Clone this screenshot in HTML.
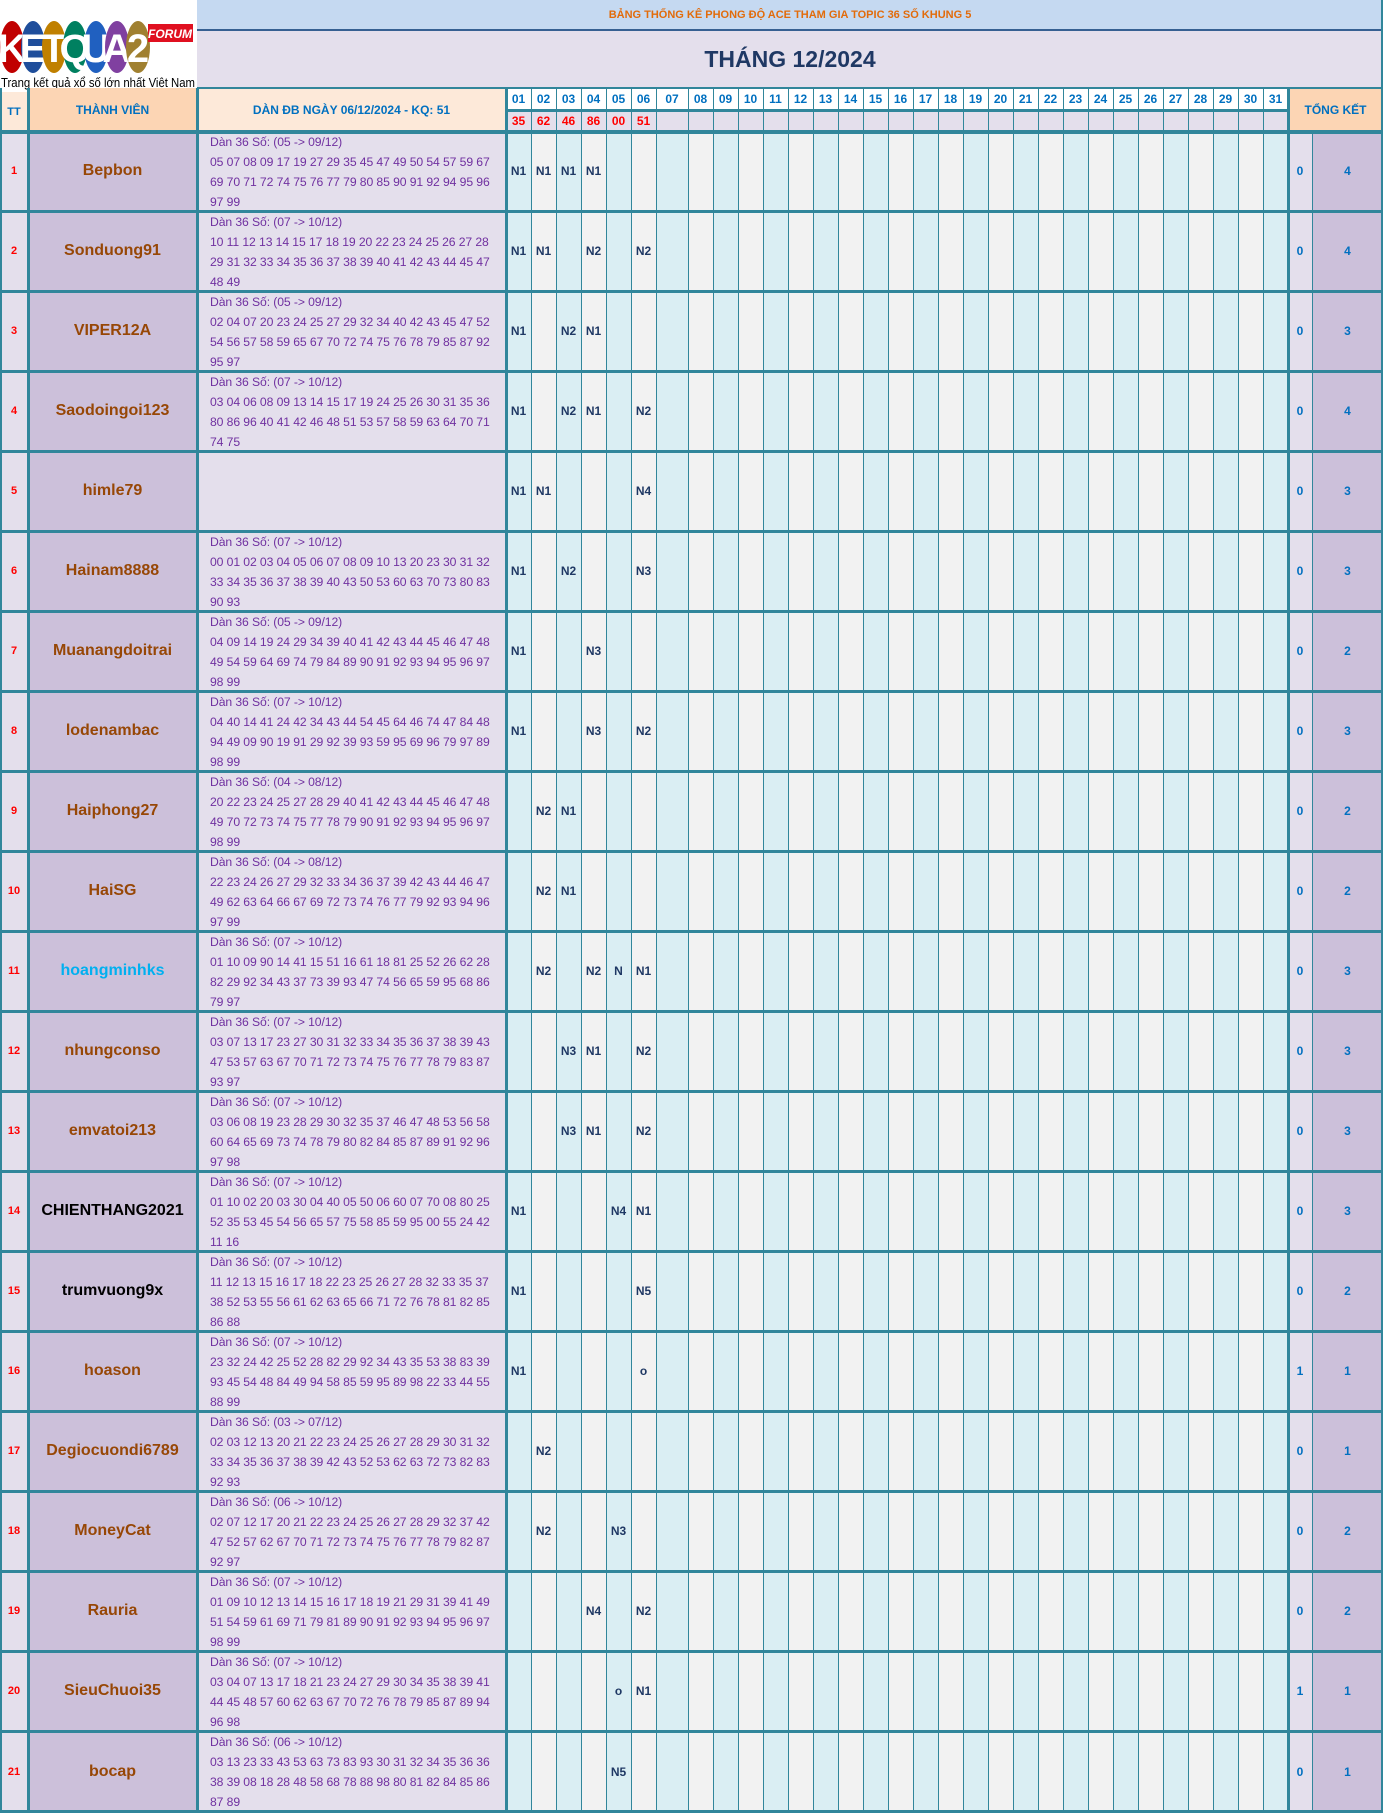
<!DOCTYPE html>
<html><head><meta charset="utf-8">
<style>
*{margin:0;padding:0;box-sizing:border-box}
body{width:1383px;height:1812px;position:relative;background:#fff;font-family:"Liberation Sans",sans-serif;overflow:hidden}
.c{position:absolute;display:flex;align-items:center;justify-content:center;text-align:center}
.ln{position:absolute;background:#31869b}
.dan{position:absolute;left:210px;width:296px;color:#7030a0;font-size:12.2px;line-height:20px;white-space:nowrap;letter-spacing:-0.1px}
</style></head><body>
<div class="c" style="left:197px;top:0;width:1186px;height:30px;background:#c5d9f1;color:#e26b0a;font-weight:bold;font-size:11px">BẢNG THỐNG KÊ PHONG ĐỘ ACE THAM GIA TOPIC 36 SỐ KHUNG 5</div>
<div class="c" style="left:197px;top:30px;width:1186px;height:58px;background:#e4dfec;color:#1f3864;font-weight:bold;font-size:23px">THÁNG 12/2024</div>
<div style="position:absolute;left:0;top:0;width:197px;height:92px;background:#fff">
 <svg width="197" height="92" viewBox="0 0 197 92">
  <g font-family="Liberation Sans" font-weight="bold" font-size="40" fill="#fff" text-anchor="middle">
   <ellipse cx="12" cy="47" rx="12" ry="26" fill="#c00000"/><text x="12" y="62">K</text>
   <ellipse cx="33" cy="47" rx="12" ry="26" fill="#1f4e9b"/><text x="33" y="62">E</text>
   <ellipse cx="54" cy="47" rx="12" ry="26" fill="#c08000"/><text x="54" y="62">T</text>
   <ellipse cx="75" cy="47" rx="12" ry="26" fill="#008060"/><text x="75" y="62">Q</text>
   <ellipse cx="96" cy="47" rx="12" ry="26" fill="#2060c0"/><text x="96" y="62">U</text>
   <ellipse cx="117" cy="47" rx="12" ry="26" fill="#8040a0"/><text x="117" y="62">A</text>
   <ellipse cx="138" cy="47" rx="12" ry="26" fill="#a08030"/><text x="138" y="62">2</text>
  </g>
  <rect x="148" y="24" width="45" height="18" fill="#e01020"/>
  <text x="170" y="38" font-family="Liberation Sans" font-style="italic" font-weight="bold" font-size="12" fill="#fff" text-anchor="middle">FORUM</text>
  <text x="1" y="87" font-family="Liberation Sans" font-size="12.5" fill="#000" textLength="194" lengthAdjust="spacingAndGlyphs">Trang kết quả xổ số lớn nhất Việt Nam</text>
 </svg>
</div>
<div id="root"></div>
<script>
var R=document.getElementById('root'),h='';
function box(x,y,w,ht,bg,txt,st){if(txt===undefined||txt===null)txt='';h+='<div class="c" style="left:'+x+'px;top:'+y+'px;width:'+w+'px;height:'+ht+'px;background:'+bg+';'+(st||'')+'">'+String(txt)+'</div>';}
function ln(x,y,w,ht,c){h+='<div class="ln" style="left:'+x+'px;top:'+y+'px;width:'+w+'px;height:'+ht+'px;'+(c?'background:'+c:'')+'"></div>';}
var xs=[506];for(var i=1;i<=31;i++){xs.push(xs[i-1]+(i==7?32:25));}
box(0,92,28,39,'#fde9d9','TT','color:#0070c0;font-weight:bold;font-size:11px');
box(28,88,169,43,'#fcd5b4','THÀNH VIÊN','color:#0070c0;font-weight:bold;font-size:12px');
box(197,88,309,43,'#fde9d9','DÀN ĐB NGÀY 06/12/2024 - KQ: 51','color:#0070c0;font-weight:bold;font-size:12px');
var red=['35','62','46','86','00','51'];
for(var d=1;d<=31;d++){var x=xs[d-1],w=xs[d]-x;
 box(x,88,w,22,'#fff',(d<10?'0':'')+d,'color:#0070c0;font-size:12px;font-weight:bold');
 box(x,110,w,21,'#e4dfec',red[d-1]||'','color:#ff0000;font-size:12px;font-weight:bold');}
box(1288,88,95,43,'#fcd5b4','TỔNG KẾT','color:#0070c0;font-weight:bold;font-size:12px');
var D=[
['Bepbon','05 -> 09/12',['05 07 08 09 17 19 27 29 35 45 47 49 50 54 57 59 67','69 70 71 72 74 75 76 77 79 80 85 90 91 92 94 95 96','97 99'],['N1','N1','N1','N1','',''],0,4],
['Sonduong91','07 -> 10/12',['10 11 12 13 14 15 17 18 19 20 22 23 24 25 26 27 28','29 31 32 33 34 35 36 37 38 39 40 41 42 43 44 45 47','48 49'],['N1','N1','','N2','','N2'],0,4],
['VIPER12A','05 -> 09/12',['02 04 07 20 23 24 25 27 29 32 34 40 42 43 45 47 52','54 56 57 58 59 65 67 70 72 74 75 76 78 79 85 87 92','95 97'],['N1','','N2','N1','',''],0,3],
['Saodoingoi123','07 -> 10/12',['03 04 06 08 09 13 14 15 17 19 24 25 26 30 31 35 36','80 86 96 40 41 42 46 48 51 53 57 58 59 63 64 70 71','74 75'],['N1','','N2','N1','','N2'],0,4],
['himle79','',[],['N1','N1','','','','N4'],0,3],
['Hainam8888','07 -> 10/12',['00 01 02 03 04 05 06 07 08 09 10 13 20 23 30 31 32','33 34 35 36 37 38 39 40 43 50 53 60 63 70 73 80 83','90 93'],['N1','','N2','','','N3'],0,3],
['Muanangdoitrai','05 -> 09/12',['04 09 14 19 24 29 34 39 40 41 42 43 44 45 46 47 48','49 54 59 64 69 74 79 84 89 90 91 92 93 94 95 96 97','98 99'],['N1','','','N3','',''],0,2],
['lodenambac','07 -> 10/12',['04 40 14 41 24 42 34 43 44 54 45 64 46 74 47 84 48','94 49 09 90 19 91 29 92 39 93 59 95 69 96 79 97 89','98 99'],['N1','','','N3','','N2'],0,3],
['Haiphong27','04 -> 08/12',['20 22 23 24 25 27 28 29 40 41 42 43 44 45 46 47 48','49 70 72 73 74 75 77 78 79 90 91 92 93 94 95 96 97','98 99'],['','N2','N1','','',''],0,2],
['HaiSG','04 -> 08/12',['22 23 24 26 27 29 32 33 34 36 37 39 42 43 44 46 47','49 62 63 64 66 67 69 72 73 74 76 77 79 92 93 94 96','97 99'],['','N2','N1','','',''],0,2],
['hoangminhks','07 -> 10/12',['01 10 09 90 14 41 15 51 16 61 18 81 25 52 26 62 28','82 29 92 34 43 37 73 39 93 47 74 56 65 59 95 68 86','79 97'],['','N2','','N2','N','N1'],0,3],
['nhungconso','07 -> 10/12',['03 07 13 17 23 27 30 31 32 33 34 35 36 37 38 39 43','47 53 57 63 67 70 71 72 73 74 75 76 77 78 79 83 87','93 97'],['','','N3','N1','','N2'],0,3],
['emvatoi213','07 -> 10/12',['03 06 08 19 23 28 29 30 32 35 37 46 47 48 53 56 58','60 64 65 69 73 74 78 79 80 82 84 85 87 89 91 92 96','97 98'],['','','N3','N1','','N2'],0,3],
['CHIENTHANG2021','07 -> 10/12',['01 10 02 20 03 30 04 40 05 50 06 60 07 70 08 80 25','52 35 53 45 54 56 65 57 75 58 85 59 95 00 55 24 42','11 16'],['N1','','','','N4','N1'],0,3],
['trumvuong9x','07 -> 10/12',['11 12 13 15 16 17 18 22 23 25 26 27 28 32 33 35 37','38 52 53 55 56 61 62 63 65 66 71 72 76 78 81 82 85','86 88'],['N1','','','','','N5'],0,2],
['hoason','07 -> 10/12',['23 32 24 42 25 52 28 82 29 92 34 43 35 53 38 83 39','93 45 54 48 84 49 94 58 85 59 95 89 98 22 33 44 55','88 99'],['N1','','','','','o'],1,1],
['Degiocuondi6789','03 -> 07/12',['02 03 12 13 20 21 22 23 24 25 26 27 28 29 30 31 32','33 34 35 36 37 38 39 42 43 52 53 62 63 72 73 82 83','92 93'],['','N2','','','',''],0,1],
['MoneyCat','06 -> 10/12',['02 07 12 17 20 21 22 23 24 25 26 27 28 29 32 37 42','47 52 57 62 67 70 71 72 73 74 75 76 77 78 79 82 87','92 97'],['','N2','','','N3',''],0,2],
['Rauria','07 -> 10/12',['01 09 10 12 13 14 15 16 17 18 19 21 29 31 39 41 49','51 54 59 61 69 71 79 81 89 90 91 92 93 94 95 96 97','98 99'],['','','','N4','','N2'],0,2],
['SieuChuoi35','07 -> 10/12',['03 04 07 13 17 18 21 23 24 27 29 30 34 35 38 39 41','44 45 48 57 60 62 63 67 70 72 76 78 79 85 87 89 94','96 98'],['','','','','o','N1'],1,1],
['bocap','06 -> 10/12',['03 13 23 33 43 53 63 73 83 93 30 31 32 34 35 36 36','38 39 08 18 28 48 58 68 78 88 98 80 81 82 84 85 86','87 89'],['','','','','N5',''],0,1]];
for(var r=0;r<21;r++){var y=131+80*r,H=(r==20?81:80),e=D[r];
 var col='#974706';if(e[0]=='hoangminhks')col='#00b0f0';if(e[0]=='CHIENTHANG2021'||e[0]=='trumvuong9x')col='#000';
 box(0,y,28,H,'#e4dfec',r+1,'color:#ff0000;font-weight:bold;font-size:11px');
 box(28,y,169,H,'#ccc0da',e[0],'color:'+col+';font-weight:bold;font-size:16px');
 box(197,y,309,H,'#e4dfec','');
 if(e[1]){h+='<div class="dan" style="top:'+(y+1)+'px">Dàn 36 Số: ('+e[1]+')<br>'+e[2].join('<br>')+'</div>';}
 for(var d=1;d<=31;d++){var x=xs[d-1],w=xs[d]-x;
  box(x,y,w,H,(d%2?'#daeef3':'#f2f2f2'),e[3][d-1]||'','color:#1f3864;font-weight:bold;font-size:12px');}
 box(1288,y,24,H,'#e4dfec',String(e[4]),'color:#0070c0;font-weight:bold;font-size:12px');
 box(1312,y,71,H,'#ccc0da',String(e[5]),'color:#0070c0;font-weight:bold;font-size:12px');
}
for(var d=1;d<31;d++){ln(xs[d],88,1,1724);}
ln(xs[0]+0,110,782,1);
ln(1312,131,1,1681);
ln(197,29,1186,2,'#366092');ln(197,87,1186,2,'#31869b');
ln(506,109,782,3);
for(var r=0;r<=21;r++){ln(0,130+80*r,1383,(r==0?4:3));}
ln(27,88,3,1724);ln(196,88,3,1724);ln(505,88,3,1724);ln(1287,88,3,1724);
ln(1381,0,2,1812);ln(0,88,2,1724);ln(0,1810,1383,2);
R.innerHTML=h;
</script>
</body></html>
